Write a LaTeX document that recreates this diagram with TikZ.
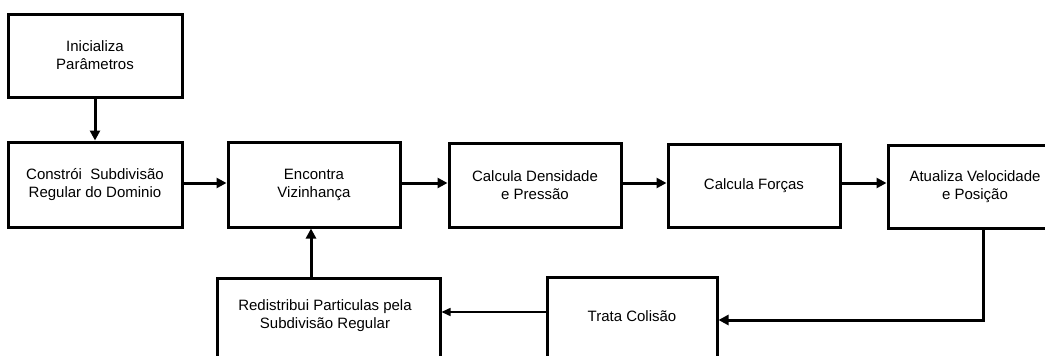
\documentclass[tikz,border=0pt]{standalone}
\usepackage{fontspec}
\setmainfont{Liberation Sans}
\usetikzlibrary{arrows.meta}
\begin{document}
\begin{tikzpicture}[x=1pt,y=1pt,
  box/.style={draw=black, line width=3pt, fill=white, align=center, inner sep=0pt,
    font=\fontsize{15}{18}\selectfont},
  txt/.style={align=center, inner sep=0pt, font=\fontsize{15}{18}\selectfont},
  conn/.style={line width=3pt, -{Triangle[length=10pt,width=10pt]}},
  thinconn/.style={line width=1.5pt, -{Triangle[length=9pt,width=8pt]}}]
\useasboundingbox (0,0) rectangle (1045,-356);
\clip (0,0) rectangle (1045,-356);
\node[box, minimum width=174pt, minimum height=83pt] (a) at (95,-55.5) {Inicializa\\Parâmetros};
\node[box, minimum width=174pt, minimum height=85pt] (b) at (95,-184.5) {Constrói\ \ Subdivisão\\Regular do Dominio};
\node[box, minimum width=172pt, minimum height=85pt] (c) at (314,-184.5) {Encontra\\Vizinhança};
\node[box, minimum width=172pt, minimum height=84pt] (d) at (535,-185) {Calcula Densidade\\e Pressão};
\node[box, minimum width=172pt, minimum height=83pt] (e) at (754,-185.5) {Calcula Forças};
\node[box, minimum width=174pt, minimum height=83pt] (f) at (975,-186.5) {Atualiza Velocidade\\e Posição};
\node[box, minimum width=170pt, minimum height=92pt] (g) at (632,-323) {};
\node[txt] (gt) at (632,-316) {Trata Colisão};
\node[box, minimum width=223pt, minimum height=90pt] (h) at (328.5,-323) {};
\node[txt] (ht) at (325,-316) {Redistribui Particulas pela\\Subdivisão Regular};
\coordinate (fdown) at ([xshift=8pt]f.south);
\draw[conn] (a) -- (b);
\draw[conn] ([yshift=1.5pt]b.east) -- ([yshift=1.5pt]c.west);
\draw[conn] ([yshift=1.5pt]c.east) -- ([yshift=2pt]d.west);
\draw[conn] ([yshift=2pt]d.east) -- ([yshift=2.5pt]e.west);
\draw[conn] ([yshift=2.5pt]e.east) -- ([yshift=3.5pt]f.west);
\draw[conn] (fdown) |- ([yshift=3pt]g.east);
\draw[thinconn] ([yshift=11pt]g.west) -- ([yshift=11pt]h.east);
\draw[conn] ([xshift=-3pt]c.south |- h.north) -- ([xshift=-3pt]c.south);
\end{tikzpicture}
\end{document}
